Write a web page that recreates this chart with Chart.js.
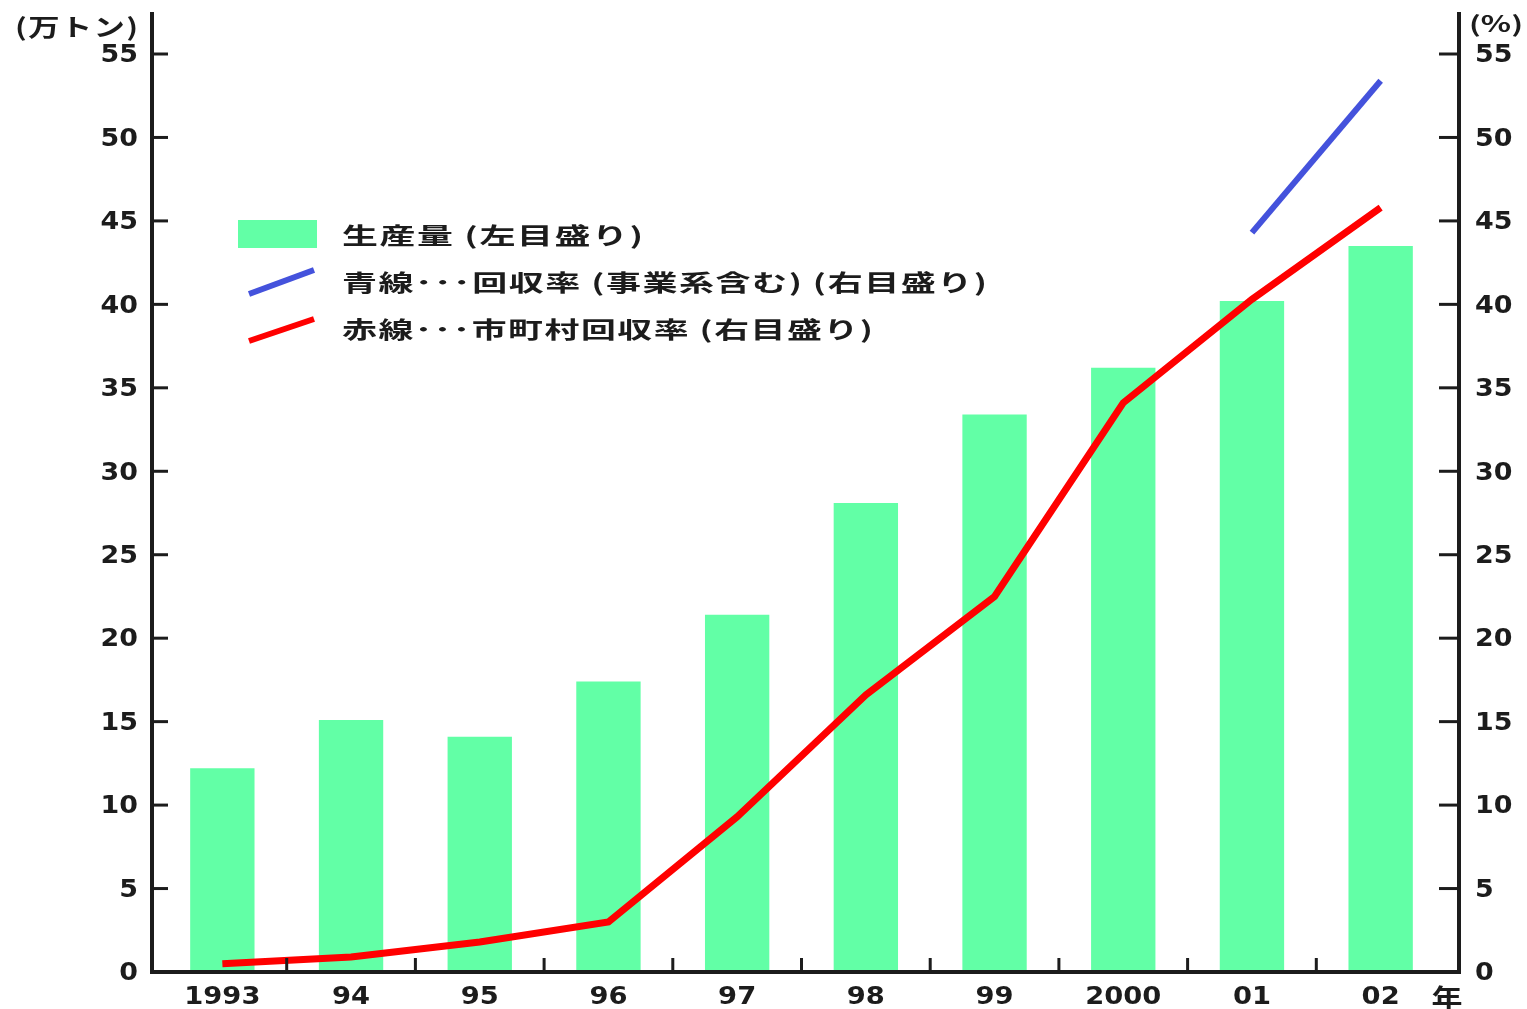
<!DOCTYPE html>
<html lang="ja">
<head>
<meta charset="utf-8">
<title>生産量と回収率</title>
<script src="https://cdn.jsdelivr.net/npm/chart.js@4/dist/chart.umd.min.js"></script>
<style>
  html, body { margin: 0; padding: 0; background: #fff; }
  #wrap { width: 1527px; height: 1009px; }
</style>
</head>
<body>
<div id="wrap"><canvas id="recycleChart" width="1527" height="1009"></canvas></div>
<script>
const years = ["1993", "94", "95", "96", "97", "98", "99", "2000", "01", "02"];
const production = [12.2, 15.1, 14.1, 17.4, 21.4, 28.1, 33.4, 36.2, 40.2, 43.5];
const municipalRate = [0.5, 0.9, 1.8, 3.0, 9.3, 16.6, 22.5, 34.1, 40.3, 45.8];
const totalRate = [null, null, null, null, null, null, null, null, 44.3, 53.4];
const leftTicks = [0, 5, 10, 15, 20, 25, 30, 35, 40, 45, 50, 55];
const rightTicks = [0, 5, 10, 15, 20, 25, 30, 35, 40, 45, 50, 55];
const leftTitle = "(万トン)";
const rightTitle = "(%)";
const yearUnit = "年";
const legendLabels = [
  "生産量 (左目盛り)",
  "青線･･･回収率 (事業系含む) (右目盛り)",
  "赤線･･･市町村回収率 (右目盛り)",
];

const GREEN = "#62ffa6";
const BLUE = "#4452dc";
const RED = "#ff0000";
const INK = "#1c1c1c";
const NUM_FONT = '"DejaVu Sans", sans-serif';
const JP_FONT = '"Noto Sans CJK JP", sans-serif';

// draws bold text, stretched sideways either by a fixed factor or to fill a width
function drawText(ctx, str, x, y, opts) {
  const size = opts.size || 24;
  ctx.save();
  ctx.font = `bold ${size}px ${opts.family || NUM_FONT}`;
  ctx.letterSpacing = (opts.spacing || 0) + "px";
  const w = ctx.measureText(str).width - (opts.spacing || 0);
  const sx = opts.width ? opts.width / w : (opts.sx || 1.1);
  ctx.translate(x, y);
  ctx.scale(sx, 1);
  ctx.fillStyle = INK;
  ctx.textAlign = opts.align || "left";
  ctx.textBaseline = "middle";
  ctx.fillText(str, 0, 0);
  ctx.restore();
}

function strokeLine(ctx, x1, y1, x2, y2, width, color) {
  ctx.save();
  ctx.strokeStyle = color;
  ctx.lineWidth = width;
  ctx.lineCap = "butt";
  ctx.beginPath();
  ctx.moveTo(x1, y1);
  ctx.lineTo(x2, y2);
  ctx.stroke();
  ctx.restore();
}

const framePlugin = {
  id: "frame",
  afterDatasetsDraw(chart) {
    const { ctx, chartArea, scales } = chart;
    const x = scales.x;
    const y = scales.y;
    const y1 = scales.y1;
    const leftX = chartArea.left - 6;
    const rightX = chartArea.right + 14;
    const baseY = y.getPixelForValue(0);
    const topY = 12;

    // axis frame: left, bottom, right
    strokeLine(ctx, leftX, topY, leftX, baseY + 2, 4, INK);
    strokeLine(ctx, rightX, topY, rightX, baseY + 2, 4, INK);
    strokeLine(ctx, leftX - 2, baseY, rightX + 2, baseY, 4, INK);

    // left scale: inward ticks and labels
    leftTicks.forEach((v) => {
      const py = y.getPixelForValue(v);
      if (v > 0) strokeLine(ctx, leftX, py, leftX + 16, py, 3, INK);
      drawText(ctx, String(v), 138, py + 2, { align: "right", size: 24, sx: 1.12 });
    });

    // right scale
    rightTicks.forEach((v) => {
      const py = y1.getPixelForValue(v);
      if (v > 0) strokeLine(ctx, rightX - 20, py, rightX, py, 3, INK);
      drawText(ctx, String(v), rightX + 16, py + 2, { align: "left", size: 24, sx: 1.12 });
    });

    // category boundary ticks pointing up from the base line
    for (let i = 1; i < years.length; i++) {
      const px = (x.getPixelForValue(i - 1) + x.getPixelForValue(i)) / 2;
      strokeLine(ctx, px, baseY, px, baseY - 14, 3, INK);
    }
    years.forEach((label, i) => {
      drawText(ctx, label, x.getPixelForValue(i), 998, { align: "center", size: 24, sx: 1.14 });
    });
    drawText(ctx, yearUnit, 1447, 998, { align: "center", size: 26, family: JP_FONT, width: 31 });

    // axis titles
    drawText(ctx, leftTitle, 15, 27, { size: 24, family: JP_FONT, width: 123, spacing: 1 });
    drawText(ctx, rightTitle, 1469, 24, { size: 22, family: JP_FONT, width: 54 });

    // legend
    ctx.save();
    ctx.fillStyle = GREEN;
    ctx.fillRect(238, 220, 79, 28);
    ctx.restore();
    strokeLine(ctx, 249, 294, 314, 270, 6, BLUE);
    strokeLine(ctx, 249, 341, 314, 319, 6, RED);
    drawText(ctx, legendLabels[0], 342, 235, { size: 23, family: JP_FONT, width: 301, spacing: 1 });
    drawText(ctx, legendLabels[1], 342, 282, { size: 23, family: JP_FONT, width: 645, spacing: 1 });
    drawText(ctx, legendLabels[2], 342, 329, { size: 23, family: JP_FONT, width: 531, spacing: 1 });
  },
};

new Chart(document.getElementById("recycleChart"), {
  type: "bar",
  data: {
    labels: years,
    datasets: [
      {
        type: "line",
        label: legendLabels[1],
        data: totalRate,
        yAxisID: "y1",
        borderColor: BLUE,
        borderWidth: 6,
        pointRadius: 0,
        tension: 0,
        order: 0,
      },
      {
        type: "line",
        label: legendLabels[2],
        data: municipalRate,
        yAxisID: "y1",
        borderColor: RED,
        borderWidth: 7,
        pointRadius: 0,
        tension: 0,
        order: 1,
      },
      {
        label: legendLabels[0],
        data: production,
        yAxisID: "y",
        backgroundColor: GREEN,
        borderWidth: 0,
        barPercentage: 0.5,
        categoryPercentage: 1.0,
        order: 2,
      },
    ],
  },
  options: {
    responsive: false,
    animation: false,
    devicePixelRatio: 1,
    layout: { padding: { left: 158, right: 82, top: 54, bottom: 37 } },
    plugins: {
      legend: { display: false },
      tooltip: { enabled: false },
    },
    scales: {
      x: { display: false, offset: true },
      y: { display: false, min: 0, max: 55 },
      y1: { display: false, min: 0, max: 55, position: "right" },
    },
  },
  plugins: [framePlugin],
});
</script>
</body>
</html>
